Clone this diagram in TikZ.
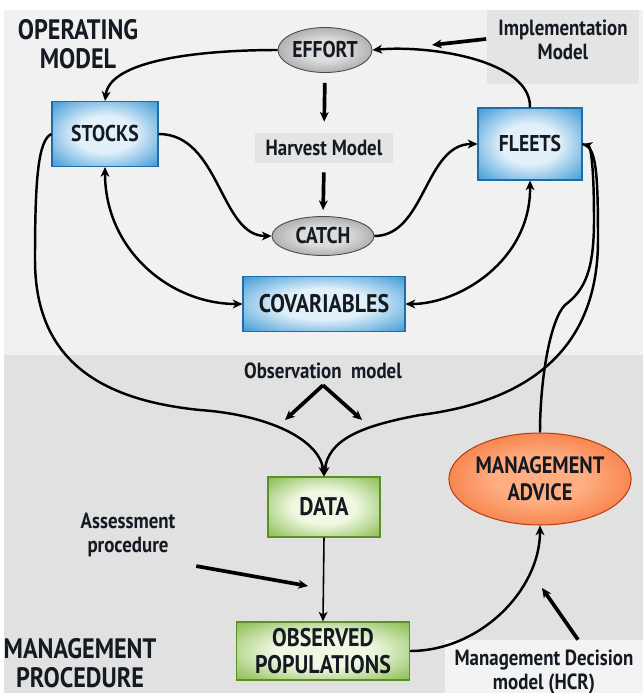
\documentclass[tikz,border=0pt]{standalone}
\usepackage{fontspec}
\setmainfont{PT Sans}[FakeStretch=0.86]
\usepackage{xcolor}
\usetikzlibrary{arrows.meta,positioning,shapes.geometric}

\definecolor{panelTop}{HTML}{F1F1F1}
\definecolor{panelLow}{HTML}{E1E1E1}
\definecolor{stockBlue}{HTML}{2A90D2}
\definecolor{stockEdge}{HTML}{1D6EA8}
\definecolor{stockGlow}{HTML}{E2F0FA}
\definecolor{dataGreen}{HTML}{7CB53C}
\definecolor{dataEdge}{HTML}{5C8F26}
\definecolor{dataGlow}{HTML}{F0F8E4}
\definecolor{flowGray}{HTML}{7E7E7E}
\definecolor{flowEdge}{HTML}{4A4A4A}
\definecolor{flowGlow}{HTML}{DCDCDC}
\definecolor{adviceRed}{HTML}{F05A1A}
\definecolor{adviceEdge}{HTML}{B8420F}
\definecolor{adviceGlow}{HTML}{FFAE82}
\definecolor{noteGray}{HTML}{E4E4E4}
\definecolor{inkDark}{HTML}{141A22}

\pgfdeclareradialshading{blueglow}{\pgfpoint{0bp}{0bp}}{%
  color(0bp)=(stockGlow); color(14bp)=(stockGlow); color(38bp)=(stockBlue); color(50bp)=(stockBlue)}
\pgfdeclareradialshading{greenglow}{\pgfpoint{0bp}{0bp}}{%
  color(0bp)=(dataGlow); color(14bp)=(dataGlow); color(38bp)=(dataGreen); color(50bp)=(dataGreen)}
\pgfdeclareradialshading{grayglow}{\pgfpoint{0bp}{0bp}}{%
  color(0bp)=(flowGlow); color(12bp)=(flowGlow); color(40bp)=(flowGray); color(50bp)=(flowGray)}
\pgfdeclareradialshading{redglow}{\pgfpoint{0bp}{0bp}}{%
  color(0bp)=(adviceGlow); color(12bp)=(adviceGlow); color(40bp)=(adviceRed); color(50bp)=(adviceRed)}

\newcommand{\labelsize}[2]{\bfseries\fontsize{#1}{#2}\selectfont}

\tikzset{
  stockbox/.style={rectangle, draw=stockEdge, line width=0.6pt, shading=blueglow,
    inner sep=0pt, text=inkDark, font=\labelsize{13}{15}},
  databox/.style={rectangle, draw=dataEdge, line width=0.6pt, shading=greenglow,
    inner sep=0pt, align=center, text=inkDark, font=\labelsize{14.5}{15}},
  flowoval/.style={ellipse, draw=flowEdge, line width=0.5pt, shading=grayglow,
    inner sep=0pt, text=inkDark, font=\labelsize{13}{15}},
  adviceoval/.style={ellipse, draw=adviceEdge, line width=0.6pt, shading=redglow,
    inner sep=0pt, align=center, text=inkDark, font=\labelsize{13.5}{15.4}},
  notebox/.style={rectangle, fill=noteGray, inner sep=0pt, align=center,
    text=inkDark, font=\labelsize{12.5}{13.4}},
  notetext/.style={align=center, text=inkDark, font=\labelsize{12.5}{14}},
  bigtext/.style={align=center, text=inkDark, font=\labelsize{16}{16.5}},
  flow/.style={->, line width=1.4pt},
  twoway/.style={<->, line width=1.4pt},
  annot/.style={->, line width=2.1pt}
}

\begin{document}
\begin{tikzpicture}[x=0.02cm,y=-0.02cm,>={Stealth[length=5.5pt,width=5pt,inset=1.6pt]}]
    % Canvas and the two panels
    \useasboundingbox (0,0) rectangle (643,693);
    \fill[white] (0,0) rectangle (643,693);
    \fill[panelTop] (4,10) rectangle (643,355);
    \fill[panelLow] (4,355) rectangle (643,693);

    % Operating model
    \node[bigtext] (opmodel) at (78,44) {OPERATING\\MODEL};
    \node[flowoval, minimum width=1.88cm, minimum height=0.9cm] (effort) at (325,50) {EFFORT};
    \node[notebox, text depth=0.3cm, minimum width=3.06cm, minimum height=1.5cm] (impl) at (563,47) {Implementation\\Model};
    \node[stockbox, minimum width=2.12cm, minimum height=1.3cm] (stocks) at (105,134) {STOCKS};
    \node[stockbox, minimum width=2.08cm, minimum height=1.44cm] (fleets) at (530,144) {FLEETS};
    \node[notebox, minimum width=2.76cm, minimum height=0.6cm] (harvest) at (324,148) {Harvest Model};
    \node[flowoval, minimum width=2.04cm, minimum height=0.78cm] (catch) at (323,236) {CATCH};
    \node[stockbox, font=\labelsize{14.5}{16}, minimum width=3.24cm, minimum height=1.1cm] (covar) at (324,304) {COVARIABLES};

    % Management procedure
    \node[notetext] (obsmodel) at (323,371) {Observation\ \ model};
    \node[databox, minimum width=2.24cm, minimum height=1.2cm] (data) at (324,507) {DATA};
    \node[notetext] (assess) at (128,535) {Assessment\\procedure};
    \node[databox, minimum width=3.46cm, minimum height=1.16cm] (obspop) at (323,651) {OBSERVED\\POPULATIONS};
    \node[adviceoval, minimum width=3.12cm, minimum height=1.84cm] (advice) at (540,479) {MANAGEMENT\\ADVICE};
    \node[notebox, fill=white!55!noteGray, minimum width=3.96cm, minimum height=1.28cm] (hcr) at (544,672) {Management Decision\\model (HCR)};
    \node[bigtext] (mgmtproc) at (80,663) {MANAGEMENT\\PROCEDURE};

    % Free ends of the model arrows
    \coordinate (implTip) at (432,45);
    \coordinate (obsLeft) at (285,420);
    \coordinate (obsRight) at (362,420);
    \coordinate (assessTip) at (308,586);
    \coordinate (hcrTip) at (542,588);

    % Effort loop
    \draw[flow] (fleets.north) .. controls (531,60) and (430,45) .. (effort.east);
    \draw[flow] (effort.west) .. controls (200,50) and (110,60) .. (stocks.north);
    \draw[annot] ([yshift=0.16cm]impl.west) -- (implTip);

    % Harvest model
    \draw[annot, shorten <=0.2cm, shorten >=0.22cm] (effort.south) -- (harvest.north);
    \draw[annot, shorten <=0.18cm, shorten >=0.12cm] (harvest.south) -- (catch.north);
    \draw[flow] (stocks.east) .. controls (220,134) and (220,236) .. (catch.west);
    \draw[flow] (catch.east) .. controls (425,236) and (425,144) .. (fleets.west);

    % Covariables
    \draw[twoway] (stocks.south) .. controls (105,250) and (170,304) .. (covar.west);
    \draw[twoway] (fleets.south) .. controls (531,260) and (460,304) .. (covar.east);

    % Observation model
    \draw[flow] (stocks.west) .. controls (38,140) and (35,180) .. (35,260)
        .. controls (35,360) and (100,400) .. (200,410)
        .. controls (270,415) and (320,440) .. (data.north);
    \draw[flow] (fleets.east) .. controls (596,146) and (598,170) .. (598,240)
        .. controls (598,340) and (540,400) .. (420,415)
        .. controls (360,426) and (328,440) .. (data.north);
    \draw[annot] (obsmodel.south) -- (obsLeft);
    \draw[annot] (obsmodel.south) -- (obsRight);

    % Assessment and advice
    \draw[->, line width=0.9pt] (data.south) -- (obspop.north);
    \draw[annot, shorten <=0.3cm] (assess.south east) -- (assessTip);
    \draw[flow] (obspop.east) .. controls (480,651) and (540,590) .. (advice.south);
    \draw[annot] ([xshift=0.68cm]hcr.north) -- (hcrTip);

    % Implementation back to the fleets
    \draw[flow] (advice.north) .. controls (540,380) and (550,320) .. (565,305)
        .. controls (585,290) and (594,270) .. (594,220)
        .. controls (594,160) and (590,146) .. (fleets.east);
\end{tikzpicture}
\end{document}
